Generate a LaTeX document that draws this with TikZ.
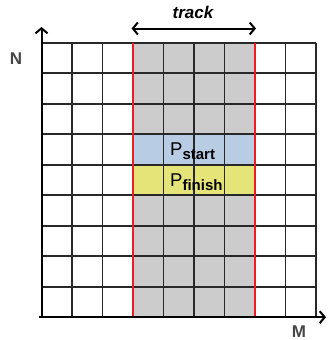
\documentclass[tikz,border=0pt]{standalone}
\usepackage{fontspec}
\setmainfont{Liberation Sans}
\usetikzlibrary{arrows.meta}
\definecolor{trackgray}{RGB}{204,204,204}
\definecolor{startblue}{RGB}{184,204,228}
\definecolor{finishyellow}{RGB}{228,228,120}
\definecolor{gridline}{RGB}{40,40,40}
\definecolor{trackred}{RGB}{235,28,36}
\definecolor{axislabel}{RGB}{70,70,70}
\tikzset{
  gridlines/.style={draw=gridline, line width=1.7pt},
  barb/.style={-{Straight Barb[length=5pt,width=12pt,line width=2pt]}},
  axisarrow/.style={draw=black, line width=2pt, barb},
  trackborder/.style={draw=trackred, line width=2pt},
  axlbl/.style={inner sep=0pt, text=axislabel, font=\fontsize{17}{17}\selectfont\bfseries},
  plabel/.style={inner sep=0pt, anchor=base west}
}
\newcommand{\psub}[2]{{\fontsize{18.5}{18.5}\selectfont #1}\raisebox{-4pt}{\fontsize{15}{15}\selectfont\bfseries #2}}
\begin{document}
\begin{tikzpicture}[x=1pt,y=-1pt]
\useasboundingbox (0,0) rectangle (327,340);
\def\cs{30.5}
% fills
\fill[trackgray] (133.0,42.7) rectangle (255.0,317.2);
\fill[startblue] (133.0,134.2) rectangle (255.0,164.7);
\fill[finishyellow] (133.0,164.7) rectangle (255.0,195.2);
% grid
\foreach \i in {0,...,9} {
  \draw[gridlines] (41.5+\i*\cs,42.7) -- (41.5+\i*\cs,317.2);
  \draw[gridlines] (41.5,42.7+\i*\cs) -- (316,42.7+\i*\cs);
}
% red borders
\draw[trackborder] (133.0,42.7) -- (133.0,317.2);
\draw[trackborder] (255.0,42.7) -- (255.0,317.2);
% axes
\coordinate (origin) at (41.5,317.2);
\coordinate (ntip) at (41.5,27);
\coordinate (mstart) at (39,317.2);
\coordinate (mtip) at (326,317.2);
\draw[axisarrow] (origin) -- (ntip);
\draw[axisarrow] (mstart) -- (mtip);
% track arrow
\coordinate (tl) at (131.5,28.5);
\coordinate (tr) at (256,28.5);
\draw[line width=2pt, {Straight Barb[length=5pt,width=12pt,line width=2pt]}-{Straight Barb[length=5pt,width=12pt,line width=2pt]}] (tl) -- (tr);
\node[inner sep=0pt, anchor=base, font=\fontsize{17}{17}\selectfont\bfseries\itshape] (track) at (193,18.3) {track};
\node[axlbl] (N) at (16,58.5) {N};
\node[axlbl] (M) at (299,332) {M};
\node[plabel] (pstart) at (170,155) {\psub{P}{start}};
\node[plabel] (pfinish) at (170,186) {\psub{P}{finish}};
\end{tikzpicture}
\end{document}
